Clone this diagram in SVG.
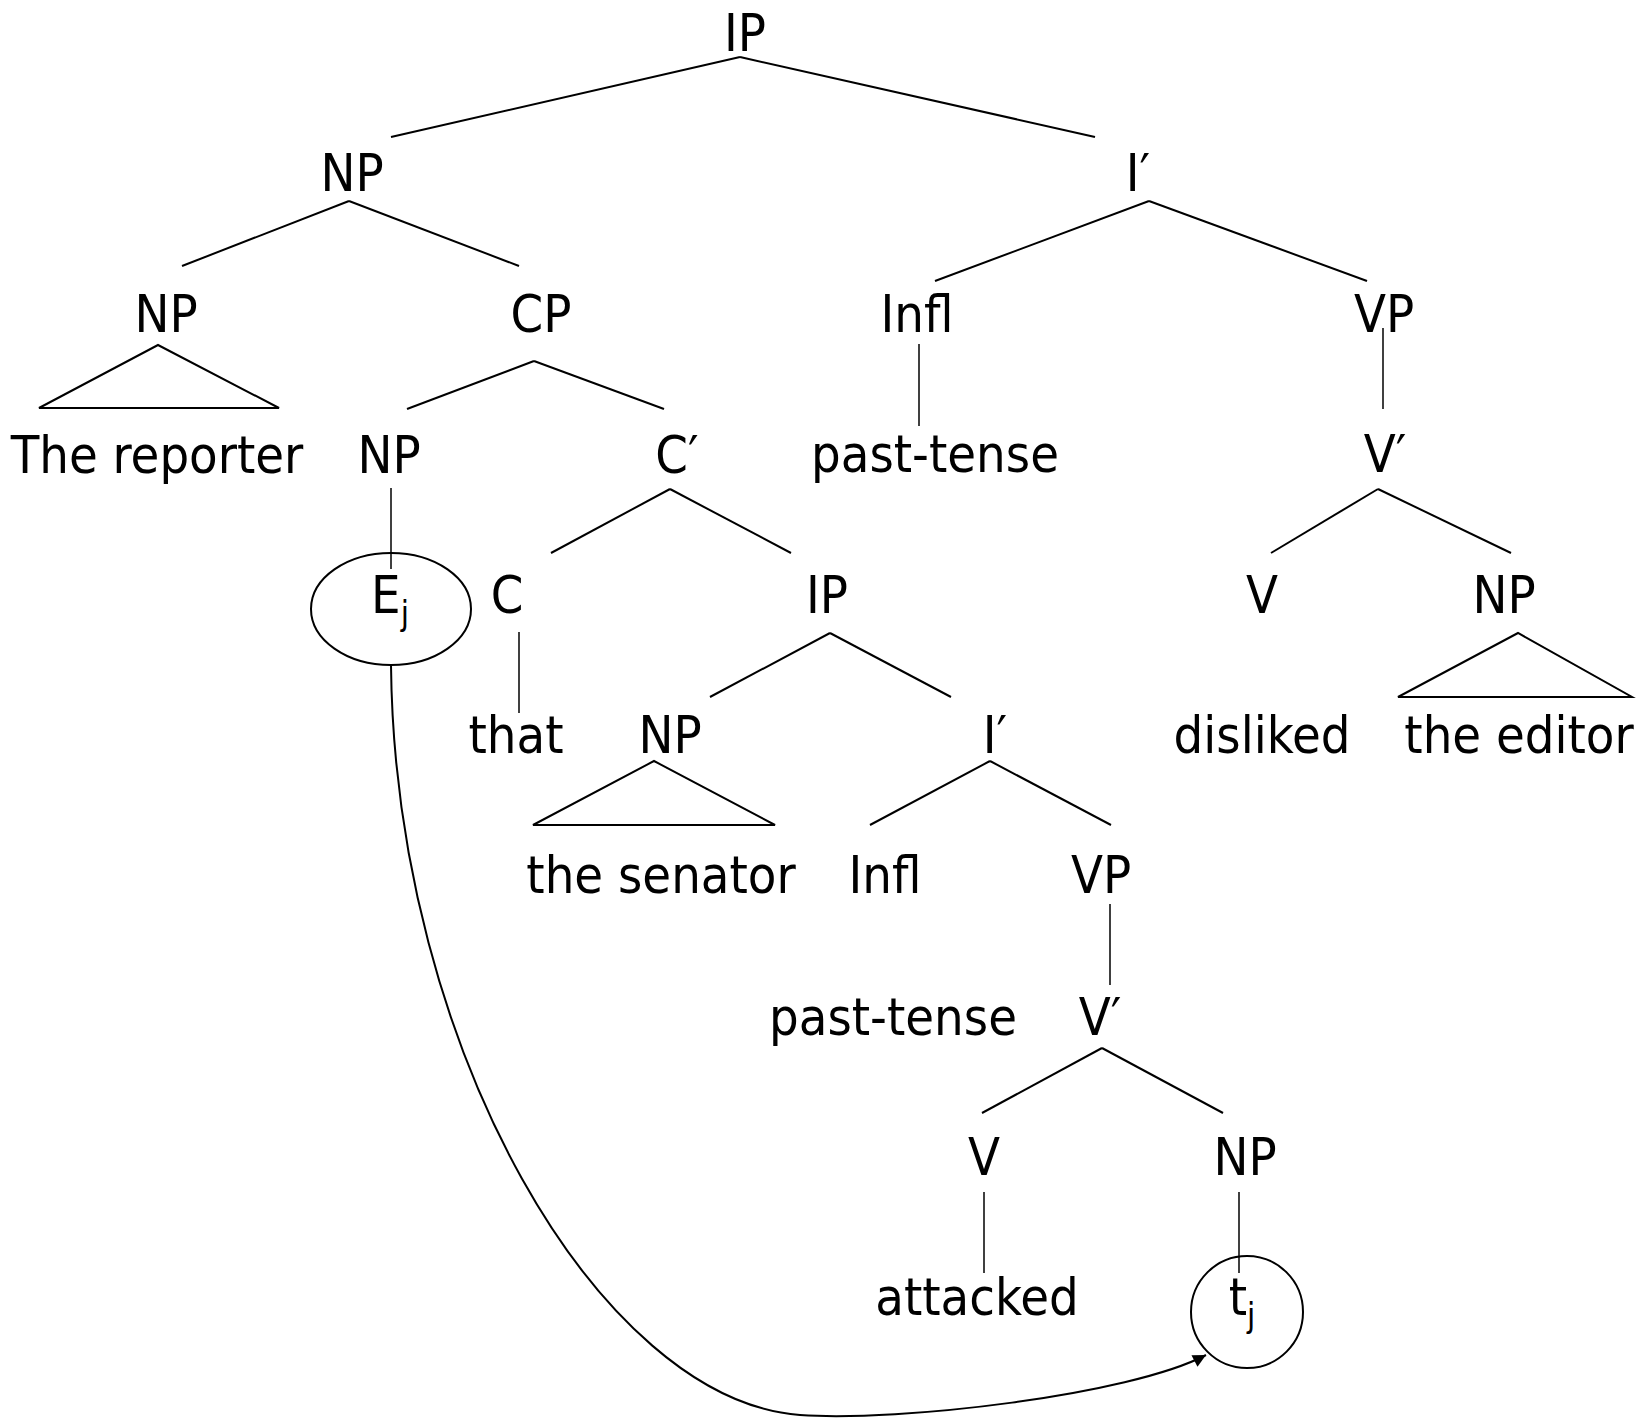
<svg xmlns="http://www.w3.org/2000/svg" width="1637" height="1420" viewBox="0 0 1637 1420">
<style>
text{font-family:"DejaVu Sans Condensed","DejaVu Sans",sans-serif;font-size:52px;fill:#000;text-anchor:middle}
.e{stroke:#000;stroke-width:2;fill:none}
.v{stroke:#000;stroke-width:1.5;fill:none}
.sub{font-size:33px}
</style>
<defs>
<marker id="ah" viewBox="0 0 10 10" refX="10" refY="5" markerWidth="7.5" markerHeight="6.5" orient="auto" markerUnits="strokeWidth">
<path d="M0 0L10 5L0 10z" fill="#000"/>
</marker>
</defs>
<rect width="1637" height="1420" fill="#fff"/>
<g id="connectors">
<line class="e" x1="740" y1="57" x2="391" y2="137"/>
<line class="e" x1="740" y1="57" x2="1095" y2="137"/>
<line class="e" x1="349" y1="201" x2="182" y2="266"/>
<line class="e" x1="349" y1="201" x2="519" y2="266"/>
<line class="e" x1="1149" y1="201" x2="935" y2="281"/>
<line class="e" x1="1149" y1="201" x2="1367" y2="281"/>
<polygon class="e" points="158,345 39,408 279,408"/>
<line class="e" x1="534" y1="361" x2="407" y2="409"/>
<line class="e" x1="534" y1="361" x2="664" y2="409"/>
<line class="v" x1="919" y1="344" x2="919" y2="426"/>
<line class="v" x1="1383" y1="328" x2="1383" y2="409"/>
<line class="v" x1="391" y1="488" x2="391" y2="569"/>
<line class="e" x1="670" y1="489" x2="551" y2="553"/>
<line class="e" x1="670" y1="489" x2="791" y2="553"/>
<line class="e" x1="1378" y1="489" x2="1271" y2="553"/>
<line class="e" x1="1378" y1="489" x2="1511" y2="553"/>
<line class="v" x1="519" y1="632" x2="519" y2="713"/>
<line class="e" x1="830" y1="633" x2="710" y2="697"/>
<line class="e" x1="830" y1="633" x2="951" y2="697"/>
<polygon class="e" points="1518,633 1398,697 1632,697"/>
<polygon class="e" points="654,761 533,825 775,825"/>
<line class="e" x1="990" y1="761" x2="870" y2="825"/>
<line class="e" x1="990" y1="761" x2="1111" y2="825"/>
<line class="v" x1="1110" y1="904" x2="1110" y2="985"/>
<line class="e" x1="1102" y1="1048" x2="982" y2="1113"/>
<line class="e" x1="1102" y1="1048" x2="1223" y2="1113"/>
<line class="v" x1="984" y1="1192" x2="984" y2="1273"/>
<line class="v" x1="1239" y1="1192" x2="1239" y2="1273"/>
<path class="e" d="M391 665C395 1050 600 1400 800 1415C900 1422 1130 1395 1206 1355" marker-end="url(#ah)"/>
</g>
<g id="n-ip"><text x="745" y="51">IP</text></g>
<g id="n-np1"><text x="352" y="191">NP</text></g>
<g id="n-ibar1"><text x="1138" y="191">I′</text></g>
<g id="n-np2"><text x="166" y="332">NP</text></g>
<g id="n-cp"><text x="541" y="332">CP</text></g>
<g id="n-infl1"><text x="917" y="332">Infl</text></g>
<g id="n-vp1"><text x="1384" y="332">VP</text></g>
<g id="n-reporter"><text x="157" y="473">The reporter</text></g>
<g id="n-np3"><text x="389" y="473">NP</text></g>
<g id="n-cbar"><text x="677" y="473">C′</text></g>
<g id="n-past1"><text x="935" y="472">past-tense</text></g>
<g id="n-vbar1"><text x="1385" y="472">V′</text></g>
<g id="n-ej"><ellipse class="e" cx="391" cy="609" rx="80" ry="56"/><text x="390" y="613">E<tspan class="sub" dy="12">j</tspan></text></g>
<g id="n-c"><text x="507" y="613">C</text></g>
<g id="n-ip2"><text x="827" y="613">IP</text></g>
<g id="n-v1"><text x="1262" y="613">V</text></g>
<g id="n-np4"><text x="1504" y="613">NP</text></g>
<g id="n-that"><text x="516" y="753">that</text></g>
<g id="n-np5"><text x="670" y="753">NP</text></g>
<g id="n-ibar2"><text x="995" y="753">I′</text></g>
<g id="n-disliked"><text x="1262" y="753">disliked</text></g>
<g id="n-editor"><text x="1519" y="753">the editor</text></g>
<g id="n-senator"><text x="661" y="893">the senator</text></g>
<g id="n-infl2"><text x="885" y="893">Infl</text></g>
<g id="n-vp2"><text x="1101" y="893">VP</text></g>
<g id="n-past2"><text x="893" y="1035">past-tense</text></g>
<g id="n-vbar2"><text x="1100" y="1035">V′</text></g>
<g id="n-v2"><text x="984" y="1175">V</text></g>
<g id="n-np6"><text x="1245" y="1175">NP</text></g>
<g id="n-attacked"><text x="977" y="1315">attacked</text></g>
<g id="n-tj"><ellipse class="e" cx="1247" cy="1312" rx="56" ry="56"/><text x="1242" y="1315">t<tspan class="sub" dy="12">j</tspan></text></g>
</svg>
